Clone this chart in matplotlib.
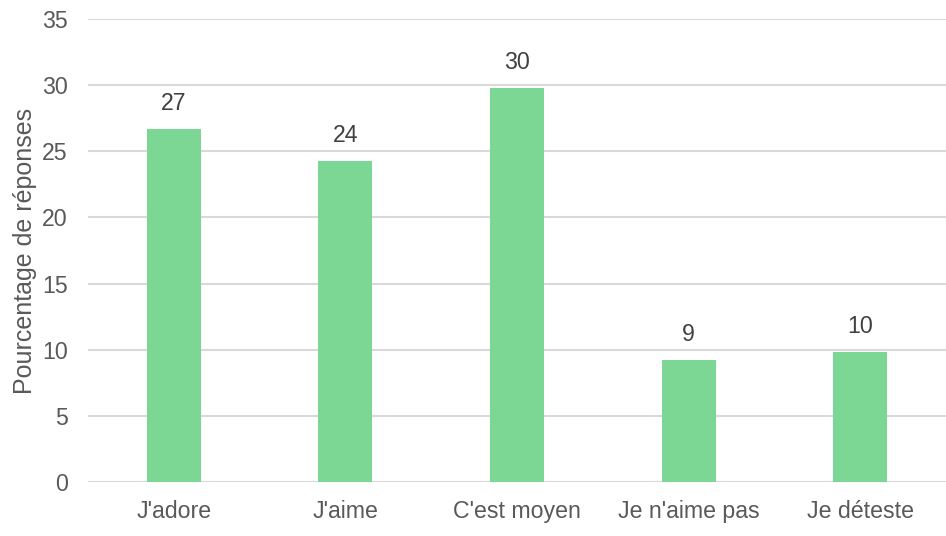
import matplotlib
matplotlib.use("Agg")
from matplotlib import pyplot as plt

categories = ["J'adore", "J'aime", "C'est moyen", "Je n'aime pas", "Je déteste"]
values = [26.7, 24.3, 29.8, 9.2, 9.8]
labels = ["27", "24", "30", "9", "10"]

textColor = "#595959"
plt.rcParams["font.family"] = ["Liberation Sans", "DejaVu Sans"]

fig = plt.figure(figsize=(9.46, 5.36), dpi=100)
ax = fig.add_axes([88 / 946, 1 - 482 / 536, 858 / 946, 463 / 536])

x = range(len(categories))
bars = ax.bar(x, values, width=0.315, color="#7bd793", zorder=3)

for bar, lab in zip(bars, labels):
    ax.annotate(lab, (bar.get_x() + bar.get_width() / 2, bar.get_height()),
                xytext=(0, 10), textcoords="offset points",
                ha="center", va="bottom", fontsize=16.7, color="#404040")

ax.set_xlim(-0.5, 4.5)
ax.set_ylim(0, 35)
ax.set_yticks(range(0, 36, 5))
ax.set_xticks(list(x))
ax.set_xticklabels(categories)
ax.grid(axis="y", color="#d9d9d9", linewidth=1.5, zorder=0)
ax.tick_params(length=0, labelsize=16.7, labelcolor=textColor)
ax.tick_params(axis="x", pad=13)
ax.tick_params(axis="y", pad=14.5)
for s in ax.spines.values():
    s.set_visible(False)
ax.set_ylabel("Pourcentage de réponses", fontsize=18, color=textColor, labelpad=4)

fig.savefig("out.png", dpi=100)
